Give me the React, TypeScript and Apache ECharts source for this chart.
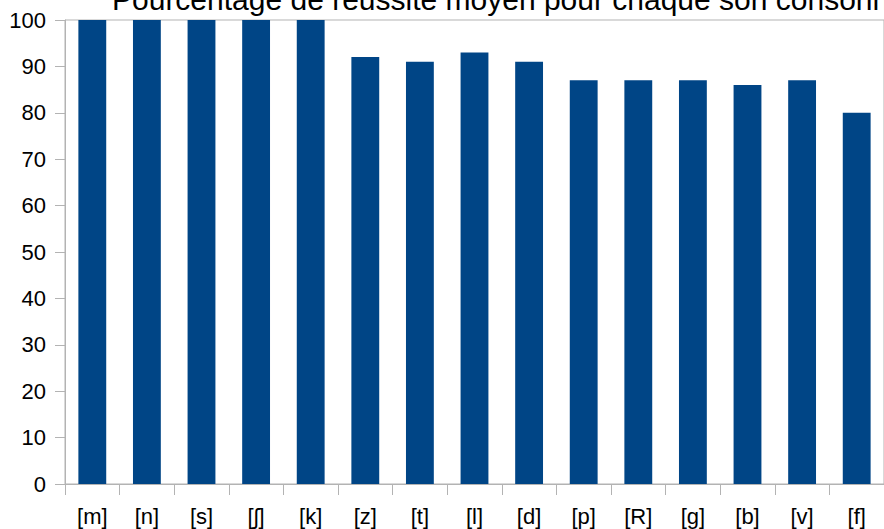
import React, { useEffect, useRef } from "react";
import * as echarts from "echarts";

const title = "Pourcentage de réussite moyen pour chaque son consonne";
const categories = ["[m]", "[n]", "[s]", "[ʃ]", "[k]", "[z]", "[t]", "[l]", "[d]", "[p]", "[R]", "[g]", "[b]", "[v]", "[f]"];
const values = [100, 100, 100, 100, 100, 92, 91, 93, 91, 87, 87, 87, 86, 87, 80];
const yMin = 0;
const yMax = 100;
const yStep = 10;

export default function App() {
  const ref = useRef<HTMLDivElement>(null);
  useEffect(() => {
    document.body.style.margin = "0";
    const chart = echarts.init(ref.current!, undefined, { renderer: "svg" });
    const font = "'Liberation Sans', Arial, sans-serif";
    chart.setOption({
      animation: false,
      backgroundColor: "#ffffff",
      title: {
        text: title,
        left: 107,
        top: -21,
        textStyle: { fontFamily: font, fontSize: 30, fontWeight: "normal", color: "#000000" },
      },
      grid: {
        left: 65,
        top: 20,
        width: 820,
        height: 464,
        show: true,
        borderColor: "#b3b3b3",
        borderWidth: 1,
      },
      xAxis: {
        type: "category",
        data: categories,
        axisLine: { show: true, lineStyle: { color: "#b3b3b3" } },
        axisTick: { show: true, length: 11, alignWithLabel: false, lineStyle: { color: "#b3b3b3" } },
        axisLabel: { fontFamily: font, fontSize: 22, color: "#000000", margin: 21, interval: 0 },
        splitLine: { show: false },
      },
      yAxis: {
        type: "value",
        min: yMin,
        max: yMax,
        interval: yStep,
        axisLine: { show: true, lineStyle: { color: "#b3b3b3" } },
        axisTick: { show: true, length: 10, lineStyle: { color: "#b3b3b3" } },
        axisLabel: { fontFamily: font, fontSize: 22, color: "#000000", margin: 19 },
        splitLine: { show: false },
      },
      series: [
        {
          type: "bar",
          data: values,
          barWidth: "51%",
          itemStyle: { color: "#004586" },
        },
      ],
    });
    return () => chart.dispose();
  }, []);
  return <div ref={ref} style={{ width: 884, height: 529 }} />;
}
